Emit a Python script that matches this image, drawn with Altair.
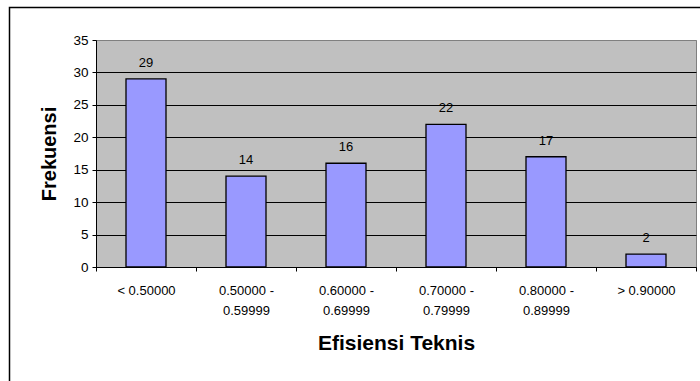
import json
import altair as alt
import pandas as pd

# ---- data ----
categories = ["< 0.50000", "0.50000 -|0.59999", "0.60000 -|0.69999",
              "0.70000 -|0.79999", "0.80000 -|0.89999", "> 0.90000"]
frequencies = [29, 14, 16, 22, 17, 2]
y_ticks = [0, 5, 10, 15, 20, 25, 30, 35]

df = pd.DataFrame({"idx": list(range(len(categories))),
                   "kategori": categories,
                   "frekuensi": frequencies})

FONT = "Liberation Sans"
n = len(categories)
labels_js = json.dumps(categories)
x_values = [i / 2 for i in range(2 * n + 1)]

base = alt.Chart(df).transform_calculate(
    lo="datum.idx + 0.3", hi="datum.idx + 0.7", mid="datum.idx + 0.5"
)

x_scale = alt.Scale(domain=[0, n], nice=False, zero=False, padding=0)
y_scale = alt.Scale(domain=[0, 35], nice=False, zero=True, padding=0)

x_axis = alt.Axis(
    values=x_values,
    title="Efisiensi Teknis",
    titleFont=FONT, titleFontSize=21, titleFontWeight="bold",
    titleColor="black", titleX=300, titleY=82,
    titleBaseline="alphabetic",
    labelExpr=("(datum.value % 1) == 0.5 ? split(" + labels_js +
               "[floor(datum.value)], '|') : ''"),
    labelFont=FONT, labelFontSize=13, labelColor="black",
    labelLineHeight=20.5, labelPadding=13, labelBaseline="top",
    labelOverlap=False, labelFlush=False, labelBound=False,
    tickSize=4, tickColor="black",
    tickOpacity={"condition": {"test": "(datum.value % 1) == 0", "value": 1}, "value": 0},
    domainColor="black", grid=False)

y_axis = alt.Axis(
    values=y_ticks,
    title="Frekuensi",
    titleFont=FONT, titleFontSize=20, titleFontWeight="bold",
    titleColor="black", titleX=-41, titleY=113.5,
    titleBaseline="alphabetic", titleAngle=270,
    labelFont=FONT, labelFontSize=13.5, labelColor="black",
    labelPadding=4, labelOverlap=False,
    tickSize=4, tickColor="black",
    domainColor="black",
    grid=True, gridWidth=1,
    gridColor={"condition": {"test": "datum.value >= 35", "value": "#808080"}, "value": "black"})

bars = base.mark_bar(color="#9999FF", stroke="black", strokeWidth=1.3,
                     orient="vertical").encode(
    x=alt.X("lo:Q", scale=x_scale, axis=x_axis),
    x2="hi:Q",
    y=alt.Y("frekuensi:Q", scale=y_scale, axis=y_axis),
    y2=alt.datum(0),
)

texts = base.mark_text(font=FONT, fontSize=13, color="black",
                       baseline="alphabetic", dy=-12).encode(
    x=alt.X("mid:Q", scale=x_scale, axis=x_axis),
    y=alt.Y("frekuensi:Q", scale=y_scale, axis=y_axis),
    text="frekuensi:Q",
)

frame = alt.Chart(pd.DataFrame({"f": [0]})).mark_rect(
    fill=None, stroke="black", strokeWidth=1.5
).encode(
    x=alt.value(-86.5), x2=alt.value(640), y=alt.value(-32.5), y2=alt.value(380)
)

chart = alt.layer(bars, texts, frame).properties(
    width=600, height=227,
    padding={"left": 96, "top": 40, "right": 4, "bottom": 114},
    autosize="none",
    background="white",
).configure_view(fill="#C0C0C0", stroke="#808080", strokeWidth=1)

chart.save("out.html", embed_options={"renderer": "svg", "actions": False})
